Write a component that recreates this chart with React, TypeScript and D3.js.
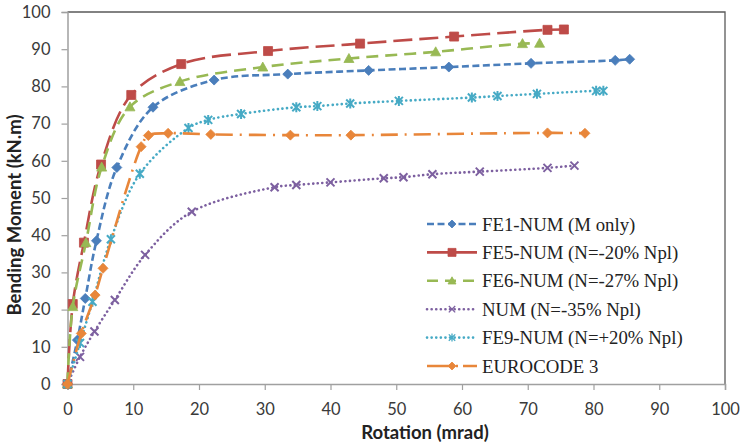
import React, { useEffect, useRef } from "react";
import * as d3 from "d3";

const WIDTH = 740;
const HEIGHT = 444;

// rotation (mrad) and bending moment (kN.m)
const fe1Rot = [0, 1.5, 2.7, 4.4, 7.5, 13, 22.3, 33.5, 45.8, 58, 70.5, 83.3, 85.5];
const fe1Mom = [0, 11.8, 23, 38.5, 58.2, 74.4, 81.7, 83.3, 84.3, 85.2, 86.2, 87, 87.3];

const fe5Rot = [0, 0.8, 2.5, 5.1, 9.7, 17.3, 30.5, 44.5, 58.8, 73, 75.5];
const fe5Mom = [0, 21.5, 38, 59, 77.7, 86, 89.5, 91.5, 93.4, 95.2, 95.3];

const fe6Rot = [0, 0.8, 2.8, 5.2, 9.5, 17.1, 29.7, 42.8, 56, 69.2, 71.8];
const fe6Mom = [0, 20.8, 38, 58.3, 74.5, 81.3, 85.2, 87.5, 89.3, 91.5, 91.6];

const numRot = [0, 1.9, 4.1, 7.2, 11.8, 18.9, 31.5, 34.8, 40, 48.1, 51.1, 55.5, 62.7, 73, 77.1];
const numMom = [0, 7.3, 14.1, 22.6, 34.7, 46.3, 52.9, 53.5, 54.2, 55.3, 55.6, 56.4, 57.1, 58.1, 58.7];

const fe9Rot = [0, 1.9, 3.8, 6.6, 11, 18.4, 21.4, 26.4, 34.8, 38, 43, 50.4, 61.5, 65.4, 71.4, 80.4, 81.5];
const fe9Mom = [0, 11, 22.1, 38.9, 56.5, 68.8, 71, 72.6, 74.4, 74.7, 75.4, 76.1, 77, 77.4, 78, 78.8, 78.8];

const ecRot = [0, 2.1, 4.2, 5.4, 11.2, 12.3, 15.3, 21.8, 33.9, 43.1, 73, 78.7];
const ecMom = [0, 13.6, 23.9, 31.1, 63.8, 66.8, 67.4, 67.1, 66.9, 66.9, 67.5, 67.4];

const xTicks = [0, 10, 20, 30, 40, 50, 60, 70, 80, 90, 100];
const yTicks = [0, 10, 20, 30, 40, 50, 60, 70, 80, 90, 100];

const seriesList = [
  { name: "FE1-NUM (M only)", rot: fe1Rot, mom: fe1Mom, color: "#4a7ebb", dash: "7,3.5", legendDash: "7,3.5", cap: "butt", marker: "diamond" },
  { name: "FE5-NUM (N=-20% Npl)", rot: fe5Rot, mom: fe5Mom, color: "#be4b48", dash: "19,7", legendDash: null, cap: "butt", marker: "square" },
  { name: "FE6-NUM (N=-27% Npl)", rot: fe6Rot, mom: fe6Mom, color: "#98b954", dash: "12,7", legendDash: "11,7", cap: "butt", marker: "triangle" },
  { name: "NUM (N=-35% Npl)", rot: numRot, mom: numMom, color: "#7d60a0", dash: "0.1,4.5", legendDash: "0.1,4.5", cap: "round", marker: "x" },
  { name: "FE9-NUM (N=+20% Npl)", rot: fe9Rot, mom: fe9Mom, color: "#46aac5", dash: "0.1,4.5", legendDash: "0.1,4.5", cap: "round", marker: "star" },
  { name: "EUROCODE 3", rot: ecRot, mom: ecMom, color: "#e8863a", dash: "17,7,2,7", legendDash: "24,5,2,5,14,5", cap: "butt", marker: "diamond" },
];

const markerPath = (kind, s) => {
  if (kind === "diamond") return `M0,${-s}L${s},0L0,${s}L${-s},0Z`;
  if (kind === "square") return `M${-s},${-s}H${s}V${s}H${-s}Z`;
  if (kind === "triangle") return `M0,${-s}L${s},${s * 0.8}L${-s},${s * 0.8}Z`;
  const d = s * 0.8;
  const x = `M${-d},${-d}L${d},${d}M${-d},${d}L${d},${-d}`;
  if (kind === "x") return x;
  return `${x}M0,${-s}V${s}`;
};

const App = () => {
  const ref = useRef(null);

  useEffect(() => {
    document.body.style.margin = "0";
    const svg = d3.select(ref.current);
    svg.selectAll("*").remove();

    const x = d3.scaleLinear().domain([0, 100]).range([67.5, 725]);
    const y = d3.scaleLinear().domain([0, 100]).range([384, 12]);

    svg.append("rect").attr("width", WIDTH).attr("height", HEIGHT).attr("fill", "#fff");

    // plot frame (top / right)
    svg.append("path")
      .attr("d", `M${x(0)},${y(100)}H${x(100)}V${y(0)}`)
      .attr("fill", "none")
      .attr("stroke", "#5a5a5a")
      .attr("stroke-width", 1.3);

    const tickFont = "Lato, Carlito, sans-serif";

    // x axis
    const gx = svg.append("g").attr("transform", `translate(0,${y(0)})`)
      .call(d3.axisBottom(x).tickValues(xTicks).tickSize(6).tickPadding(13).tickFormat(d3.format("d")));
    gx.select(".domain").attr("stroke", "#a0a0a0").attr("stroke-width", 1.5);
    gx.selectAll(".tick line").attr("stroke", "#a0a0a0").attr("stroke-width", 1.2);
    gx.selectAll(".tick text").attr("font-family", tickFont).attr("font-size", 16.5).attr("fill", "#3a3a3a");

    // y axis
    const gy = svg.append("g").attr("transform", `translate(${x(0)},0)`)
      .call(d3.axisLeft(y).tickValues(yTicks).tickSize(6).tickPadding(11).tickFormat(d3.format("d")));
    gy.select(".domain").attr("stroke", "#a0a0a0").attr("stroke-width", 1.5);
    gy.selectAll(".tick line").attr("stroke", "#a0a0a0").attr("stroke-width", 1.2);
    gy.selectAll(".tick text").attr("font-family", tickFont).attr("font-size", 16.5).attr("fill", "#3a3a3a");

    // axis titles
    svg.append("text")
      .attr("x", 425).attr("y", 438.5)
      .attr("text-anchor", "middle")
      .attr("font-family", tickFont).attr("font-weight", "bold").attr("font-size", 18.5)
      .attr("fill", "#222")
      .text("Rotation (mrad)");
    svg.append("text")
      .attr("transform", "translate(21,215) rotate(-90)")
      .attr("text-anchor", "middle")
      .attr("font-family", tickFont).attr("font-weight", "bold").attr("font-size", 18.5)
      .attr("fill", "#222")
      .text("Bending Moment (kN.m)");

    const line = d3.line()
      .x(d => x(d[0]))
      .y(d => y(d[1]))
      .curve(d3.curveCatmullRom.alpha(0.5));

    seriesList.forEach(s => {
      const pts = s.rot.map((r, i) => [r, s.mom[i]]);
      svg.append("path")
        .datum(pts)
        .attr("fill", "none")
        .attr("stroke", s.color)
        .attr("stroke-width", 2.6)
        .attr("stroke-dasharray", s.dash)
        .attr("stroke-linecap", s.cap)
        .attr("d", line);

      const open = s.marker === "x" || s.marker === "star";
      svg.append("g").selectAll("path")
        .data(pts)
        .join("path")
        .attr("transform", d => `translate(${x(d[0])},${y(d[1])})`)
        .attr("d", markerPath(s.marker, s.marker === "square" ? 4.5 : 5))
        .attr("fill", open ? "none" : s.color)
        .attr("stroke", s.color)
        .attr("stroke-width", open ? 2 : 0.8);
    });

    // legend
    const lg = svg.append("g");
    seriesList.forEach((s, i) => {
      const ly = 224 + i * 28.4;
      lg.append("line")
        .attr("x1", 427).attr("x2", 477).attr("y1", ly).attr("y2", ly)
        .attr("stroke", s.color)
        .attr("stroke-width", 2.6)
        .attr("stroke-dasharray", s.legendDash)
        .attr("stroke-linecap", s.cap);
      const open = s.marker === "x" || s.marker === "star";
      lg.append("path")
        .attr("transform", `translate(452,${ly})`)
        .attr("d", markerPath(s.marker, 4))
        .attr("fill", open ? "none" : s.color)
        .attr("stroke", s.color)
        .attr("stroke-width", open ? 1.3 : 0.8);
      lg.append("text")
        .attr("x", 482).attr("y", ly).attr("dy", "0.35em")
        .attr("font-family", "'Liberation Serif', 'Times New Roman', serif")
        .attr("font-size", 18.8)
        .attr("fill", "#222")
        .text(s.name);
    });
  }, []);

  return <svg ref={ref} width={WIDTH} height={HEIGHT} style={{ display: "block" }}></svg>;
};

export default App;
